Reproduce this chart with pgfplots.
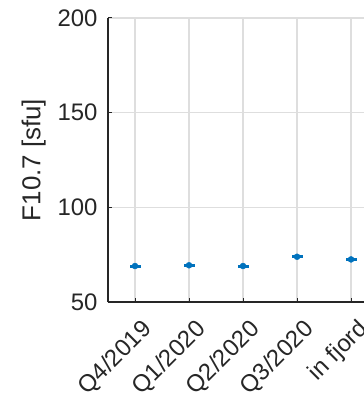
\documentclass[border=0pt]{standalone}
\usepackage{pgfplots}
\pgfplotsset{compat=1.18}
\usepackage{fontspec}
\setmainfont{Liberation Sans}
\definecolor{mblue}{RGB}{0,114,189}
\definecolor{axgray}{RGB}{38,38,38}
\definecolor{gridgray}{RGB}{222,222,222}
\begin{document}
\begin{tikzpicture}
\useasboundingbox (-108bp,-100bp) rectangle (256bp,302bp);
\begin{axis}[
  scale only axis,
  width=256bp, height=284bp,
  xmin=-0.5, xmax=4.24,
  ymin=50, ymax=200,
  axis lines=left,
  axis line style={axgray, line width=1.3bp, -},
  xtick={0,1,2,3,4},
  xticklabels={Q4/2019,Q1/2020,Q2/2020,Q3/2020,in fjord},
  ytick={50,100,150,200},
  tick align=inside,
  major tick length=4bp,
  tick style={axgray, line width=1bp},
  grid=major,
  major grid style={gridgray, line width=1.5bp},
  ticklabel style={font=\fontsize{24}{28}\selectfont, text=axgray},
  /pgf/number format/assume math mode=true,
  yticklabel style={xshift=-7bp},
  xticklabel style={rotate=45, anchor=north east, inner sep=2bp, yshift=-13bp, xshift=-5.5bp},
  ylabel={F10.7 [sfu]},
  ylabel style={font=\fontsize{26}{30}\selectfont, text=axgray, yshift=5bp},
  clip=false,
]
\addplot[only marks, mark=-, mark size=5.5bp, mark options={mblue, line width=3bp}]
  coordinates {(0,69.0) (1,69.4) (2,69.0) (3,73.9) (4,72.5)};
\addplot[only marks, mark=*, mark size=3bp, mark options={mblue, draw=mblue, fill=mblue}]
  coordinates {(0,69.0) (1,69.4) (2,69.0) (3,73.9) (4,72.5)};
\end{axis}
\end{tikzpicture}
\end{document}
